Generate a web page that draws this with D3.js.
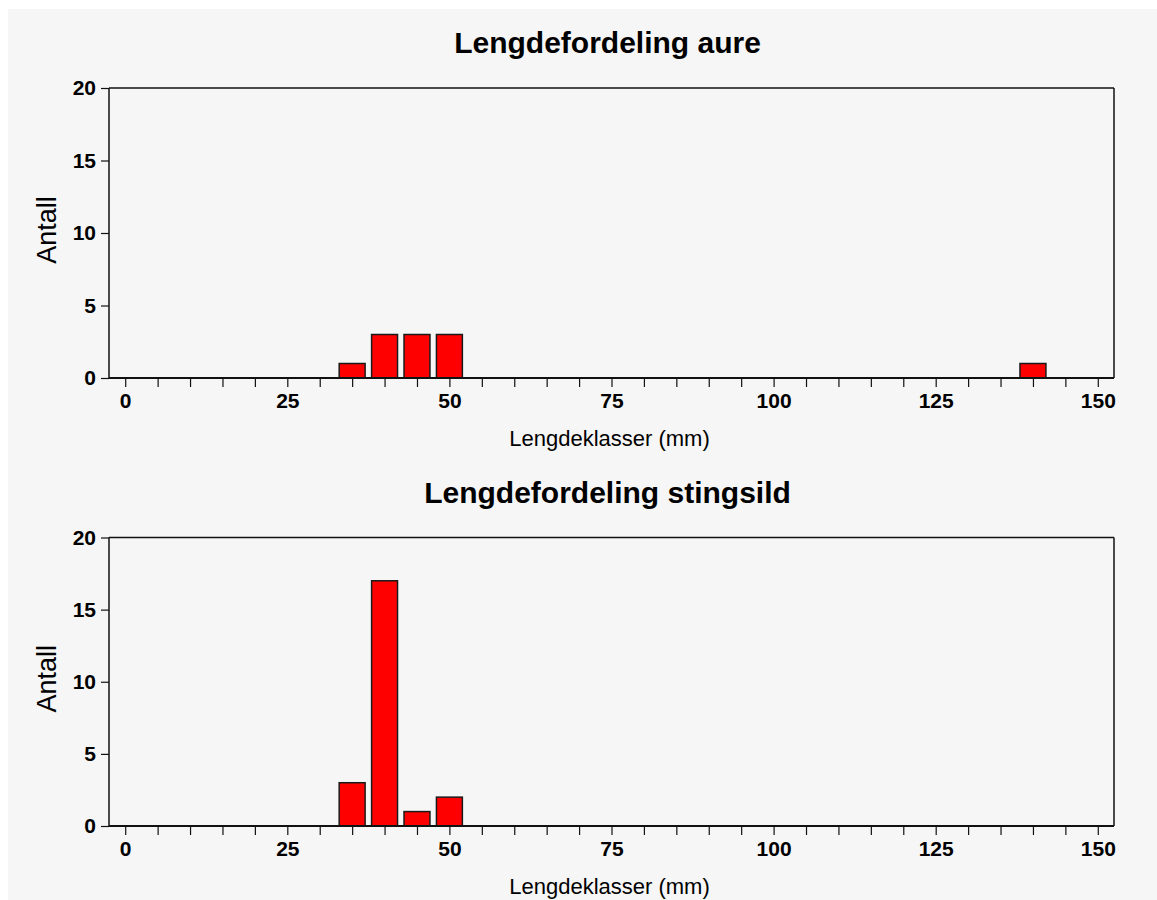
<!DOCTYPE html>
<html>
<head>
<meta charset="utf-8">
<script src="https://cdn.jsdelivr.net/npm/d3@7"></script>
<style>
  html, body { margin: 0; padding: 0; background: #ffffff; }
  svg { display: block; }
  text { font-family: "Liberation Sans", Arial, Helvetica, sans-serif; fill: #000; }
</style>
</head>
<body>
<script>
// ---- Data ----
const lengthClasses = [0, 5, 10, 15, 20, 25, 30, 35, 40, 45, 50, 55, 60, 65, 70, 75, 80, 85, 90, 95, 100, 105, 110, 115, 120, 125, 130, 135, 140, 145, 150];
const aureCounts    = [0, 0, 0, 0, 0, 0, 0, 1, 3, 3, 3, 0, 0, 0, 0, 0, 0, 0, 0, 0, 0, 0, 0, 0, 0, 0, 0, 0, 1, 0, 0];
const stingsildCounts = [0, 0, 0, 0, 0, 0, 0, 3, 17, 1, 2, 0, 0, 0, 0, 0, 0, 0, 0, 0, 0, 0, 0, 0, 0, 0, 0, 0, 0, 0, 0];
const xTickLabels = [0, 25, 50, 75, 100, 125, 150];
const yTickLabels = [0, 5, 10, 15, 20];
const titles = ["Lengdefordeling aure", "Lengdefordeling stingsild"];
const xAxisTitle = "Lengdeklasser (mm)";
const yAxisTitle = "Antall";

// ---- Layout ----
const W = 1157, H = 900;
const svg = d3.select("body").append("svg").attr("width", W).attr("height", H);
svg.append("rect").attr("x", 8).attr("y", 9).attr("width", W - 8).attr("height", H - 9).attr("fill", "#f6f6f6");

const panels = [
  { title: titles[0], counts: aureCounts, top: 88, bottom: 378 },
  { title: titles[1], counts: stingsildCounts, top: 537.5, bottom: 826 }
];
const left = 109, right = 1114;

const x = d3.scaleLinear().domain([-2.5, 152.5]).range([left, right]);
const barHalf = 2; // bar half-width in mm

panels.forEach(p => {
  const y = d3.scaleLinear().domain([0, 20]).range([p.bottom, p.top]);
  const g = svg.append("g");

  // Title
  g.append("text")
    .attr("x", (left + right) / 2 - 4)
    .attr("y", p.top - 35)
    .attr("text-anchor", "middle")
    .attr("font-size", 30).attr("font-weight", "bold")
    .text(p.title);

  // Frame top/right
  g.append("line").attr("x1", left).attr("x2", right).attr("y1", p.top).attr("y2", p.top)
    .attr("stroke", "#111").attr("stroke-width", 1.5);
  g.append("line").attr("x1", right).attr("x2", right).attr("y1", p.top).attr("y2", p.bottom)
    .attr("stroke", "#111").attr("stroke-width", 1.5);

  // Bars
  const data = lengthClasses.map((c, i) => ({ c, v: p.counts[i] })).filter(d => d.v > 0);
  g.selectAll("rect.bar").data(data).enter().append("rect")
    .attr("class", "bar")
    .attr("x", d => x(d.c - barHalf))
    .attr("width", d => x(d.c + barHalf) - x(d.c - barHalf))
    .attr("y", d => y(d.v))
    .attr("height", d => y(0) - y(d.v))
    .attr("fill", "#ff0000")
    .attr("stroke", "#1a1a1a").attr("stroke-width", 1.5);

  // Y axis
  const yAxis = d3.axisLeft(y).tickValues(yTickLabels).tickSize(8).tickPadding(5).tickFormat(d3.format("d"));
  const ya = g.append("g").attr("transform", `translate(${left},0)`).call(yAxis);
  ya.select(".domain").attr("stroke", "#111").attr("stroke-width", 1.5).attr("d", `M0,${p.top}V${p.bottom}`);
  ya.selectAll(".tick line").attr("stroke", "#111").attr("stroke-width", 1.2);
  ya.selectAll(".tick text").attr("font-size", 21).attr("font-weight", "bold")
    .attr("font-family", "Liberation Sans, Arial, sans-serif").attr("fill", "#000");

  // X axis: minor ticks every 5, labels at multiples of 25
  const xAxis = d3.axisBottom(x).tickValues(lengthClasses).tickSize(9).tickPadding(6)
    .tickFormat(d => xTickLabels.includes(d) ? d : "");
  const xa = g.append("g").attr("transform", `translate(0,${p.bottom})`).call(xAxis);
  xa.select(".domain").attr("stroke", "#111").attr("stroke-width", 2.2).attr("d", `M${left},0H${right}`);
  xa.selectAll(".tick line").attr("stroke", "#111").attr("stroke-width", 1.2);
  xa.selectAll(".tick text").attr("font-size", 21).attr("font-weight", "bold")
    .attr("font-family", "Liberation Sans, Arial, sans-serif").attr("fill", "#000");

  // X axis title
  g.append("text")
    .attr("x", (left + right) / 2 - 2)
    .attr("y", p.bottom + 68)
    .attr("text-anchor", "middle")
    .attr("font-size", 22)
    .text(xAxisTitle);

  // Y axis title
  g.append("text")
    .attr("transform", `translate(56,${(p.top + p.bottom) / 2 - 3}) rotate(-90)`)
    .attr("text-anchor", "middle")
    .attr("font-size", 27)
    .text(yAxisTitle);
});
</script>
</body>
</html>
